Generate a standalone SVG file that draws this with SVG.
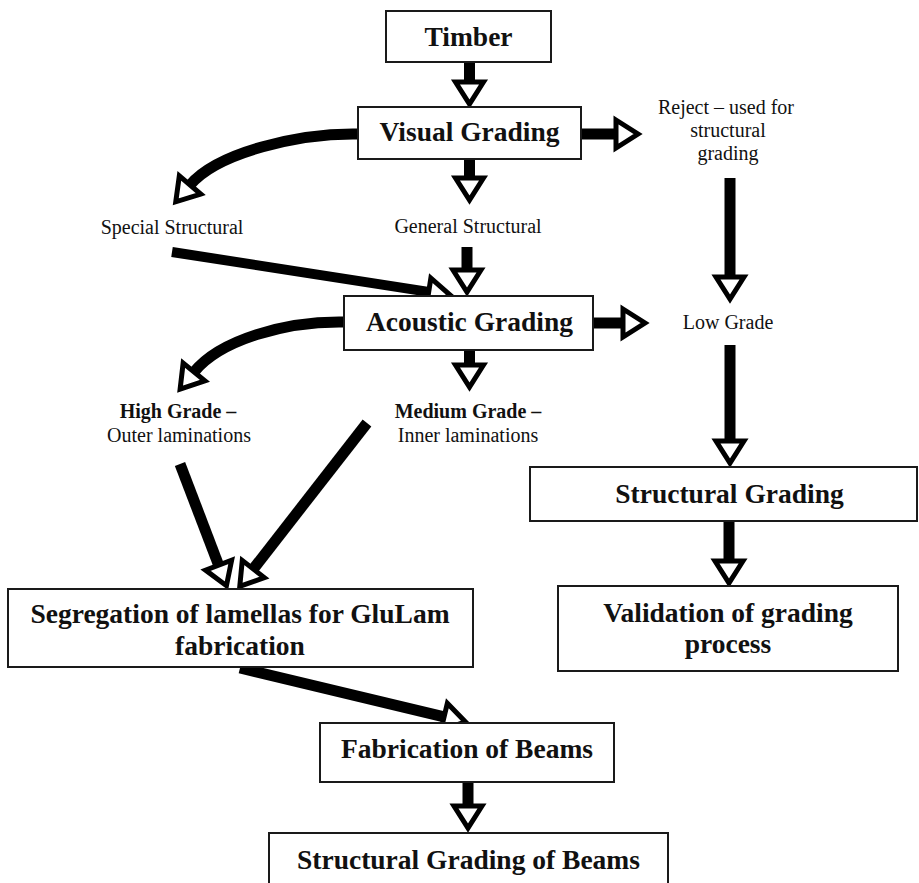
<svg xmlns="http://www.w3.org/2000/svg" width="919" height="883" viewBox="0 0 919 883">
<defs>
<style>
.box{fill:#fff;stroke:#1a1a1a;stroke-width:2}
.bt{font-family:"Liberation Serif","Times New Roman",serif;font-weight:bold;font-size:27.5px;fill:#111;text-anchor:middle}
.lt{font-family:"Liberation Serif","Times New Roman",serif;font-size:20px;fill:#111;text-anchor:middle}
.lb{font-family:"Liberation Serif","Times New Roman",serif;font-weight:bold;font-size:20px;fill:#111;text-anchor:middle}
.c{fill:none;stroke:#000;stroke-width:11;stroke-linecap:butt;marker-end:url(#ah)}
</style>
<marker id="ah" markerUnits="userSpaceOnUse" markerWidth="40" markerHeight="40" viewBox="-5 -20 40 40" refX="0" refY="0" orient="auto" overflow="visible">
<path d="M0,-14 L22,0 L0,14 Z" fill="#fff" stroke="#000" stroke-width="5" stroke-linejoin="miter"/>
</marker>
</defs>
<rect width="919" height="883" fill="#fff"/>

<g id="connectors">
<path class="c" d="M469.5,62 L469.5,82"/>
<path class="c" d="M581,134 L616,134"/>
<path class="c" d="M469.5,159 L469.5,178"/>
<path class="c" d="M467,247 L467,270"/>
<path class="c" d="M172,252 L428.7,291.9" style="stroke-width:10"/>
<path class="c" d="M358,134 C300,133 218,152 190,185"/>
<path class="c" d="M730,178 L730,277"/>
<path class="c" d="M593,323 L623,323"/>
<path class="c" d="M469.5,350 L469.5,365"/>
<path class="c" d="M344,322 C285,321 220,340 194,372"/>
<path class="c" d="M730,345 L730,441"/>
<path class="c" d="M180,464 L218.6,565.1"/>
<path class="c" d="M367,423 L253.3,569"/>
<path class="c" d="M240,668 L444.1,716.8"/>
<path class="c" d="M468,782 L468,806"/>
<path class="c" d="M729,521 L729,561"/>
</g>

<g id="timber"><rect class="box" x="386" y="11" width="165" height="51"/><text class="bt" x="468.5" y="46">Timber</text></g>
<g id="visual-grading"><rect class="box" x="358" y="107" width="223" height="52"/><text class="bt" x="469.5" y="141">Visual Grading</text></g>
<g id="reject"><text class="lt" x="726" y="114">Reject – used for</text><text class="lt" x="728" y="137">structural</text><text class="lt" x="728" y="160">grading</text></g>
<g id="special-structural"><text class="lt" x="172" y="234">Special Structural</text></g>
<g id="general-structural"><text class="lt" x="468" y="233">General Structural</text></g>
<g id="acoustic-grading"><rect class="box" x="344" y="296" width="249" height="54"/><text class="bt" x="469.5" y="331">Acoustic Grading</text></g>
<g id="low-grade"><text class="lt" x="728" y="329">Low Grade</text></g>
<g id="high-grade"><text class="lb" x="178" y="418">High Grade –</text><text class="lt" x="179" y="442">Outer laminations</text></g>
<g id="medium-grade"><text class="lb" x="468" y="418">Medium Grade –</text><text class="lt" x="468" y="442">Inner laminations</text></g>
<g id="structural-grading"><rect class="box" x="530" y="467" width="387" height="54"/><text class="bt" x="729.5" y="503">Structural Grading</text></g>
<g id="validation"><rect class="box" x="558" y="586" width="340" height="85"/><text class="bt" x="728" y="622">Validation of grading</text><text class="bt" x="728" y="653">process</text></g>
<g id="segregation"><rect class="box" x="8" y="589" width="465" height="78"/><text class="bt" x="240" y="623">Segregation of lamellas for GluLam</text><text class="bt" x="240" y="655">fabrication</text></g>
<g id="fabrication"><rect class="box" x="320" y="723" width="294" height="59"/><text class="bt" x="467" y="758">Fabrication of Beams</text></g>
<g id="structural-grading-beams"><rect class="box" x="269" y="833" width="399" height="60"/><text class="bt" x="468.5" y="869">Structural Grading of Beams</text></g>
</svg>
